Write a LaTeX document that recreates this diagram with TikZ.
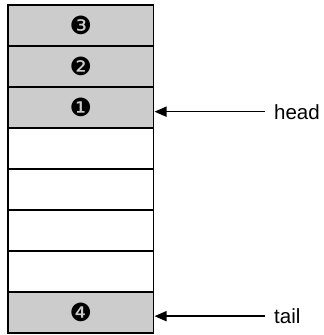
\documentclass[tikz,border=0pt]{standalone}
\usepackage{fontspec}
\setmainfont{Liberation Sans}
\newfontfamily\dingfont{DejaVu Sans}
\usetikzlibrary{arrows.meta}
\definecolor{cellgray}{gray}{0.80}
\tikzset{
  cell/.style={draw, line width=1.8pt, minimum width=145.5pt, minimum height=41pt,
    inner sep=0pt, outer sep=0pt, font=\dingfont\fontsize{25}{25}\selectfont},
  used/.style={cell, fill=cellgray},
  free/.style={cell, fill=white},
  ptr/.style={-{Triangle[length=12pt,width=10pt]}, line width=1.6pt, shorten >=1pt},
  lbl/.style={anchor=base west, inner sep=0pt, font=\fontsize{20.5}{20.5}\selectfont}
}
\begin{document}
\begin{tikzpicture}[x=1pt,y=-1pt]
  \useasboundingbox (0,0) rectangle (324,335);
  % queue slots, top to bottom
  \node[used] (c1) at (80.75,25.5)  {❸};
  \node[used] (c2) at (80.75,66.5)  {❷};
  \node[used] (c3) at (80.75,107.5) {❶};
  \node[free] (c4) at (80.75,148.5) {};
  \node[free] (c5) at (80.75,189.5) {};
  \node[free] (c6) at (80.75,230.5) {};
  \node[free] (c7) at (80.75,271.5) {};
  \node[used] (c8) at (80.75,312.5) {❹};
  % pointers
  \node[lbl] (lh) at (274,119) {head};
  \node[lbl] (lt) at (274,323.5) {tail};
  \draw[ptr] ([xshift=-9pt]lh.west) -- (lh.west -| c3.east);
  \draw[ptr] ([xshift=-9pt]lt.west) -- (lt.west -| c8.east);
\end{tikzpicture}
\end{document}
